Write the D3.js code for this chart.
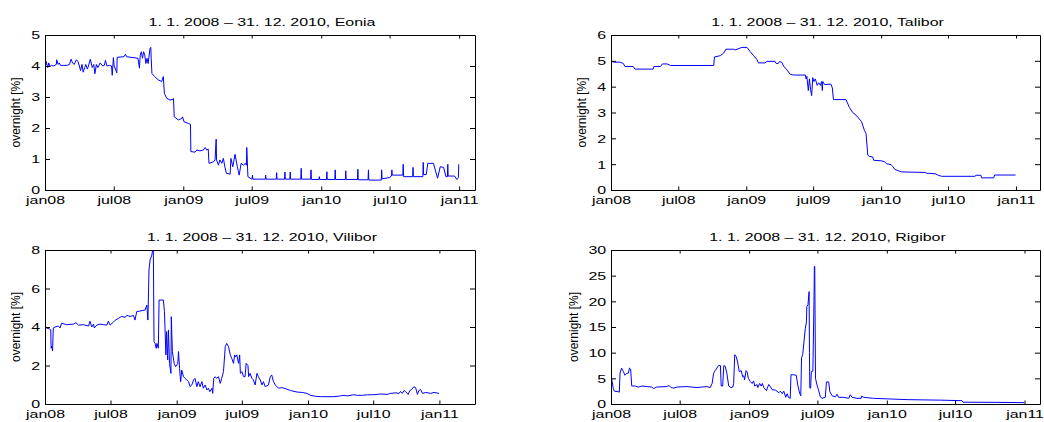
<!DOCTYPE html>
<html>
<head>
<meta charset="utf-8">
<script src="https://cdn.jsdelivr.net/npm/d3@7"></script>
<style>
  body { margin: 0; background: #fff; }
  svg { display: block; background: #fff; }
  text { font-family: "Liberation Sans", Arial, Helvetica, sans-serif; fill: #000; }
</style>
</head>
<body>
<svg id="chart" width="1044" height="422"></svg>
<script>
// Shared x-axis ticks
const xTickDates = ["2008-01-01", "2008-07-01", "2009-01-01", "2009-07-01", "2010-01-01", "2010-07-01", "2011-01-01"];
const xTickLabels = ["jan08", "jul08", "jan09", "jul09", "jan10", "jul10", "jan11"];

// Y-axis ticks per panel
const eoniaTicks = [0, 1, 2, 3, 4, 5];
const taliborTicks = [0, 1, 2, 3, 4, 5, 6];
const viliborTicks = [0, 2, 4, 6, 8];
const rigiborTicks = [0, 5, 10, 15, 20, 25, 30];

// Overnight rates [%], date / value
const eonia = [
["2008-01-01",3.85],["2008-01-04",4.15],["2008-01-08",3.95],["2008-01-11",4.1],["2008-01-14",3.98],["2008-01-18",4.02],["2008-01-24",4.0],["2008-01-31",4.05],["2008-02-01",4.2],["2008-02-05",4.05],["2008-02-08",4.1],["2008-02-11",4.02],["2008-02-20",4.02],["2008-02-28",4.02],["2008-03-06",4.05],["2008-03-10",4.22],["2008-03-14",4.1],["2008-03-18",4.05],["2008-03-24",4.2],["2008-03-28",4.15],["2008-04-01",4.0],["2008-04-04",3.85],["2008-04-08",4.05],["2008-04-11",3.8],["2008-04-15",3.95],["2008-04-18",4.05],["2008-04-22",3.9],["2008-04-25",4.0],["2008-04-30",4.22],["2008-05-05",3.95],["2008-05-09",4.05],["2008-05-12",3.75],["2008-05-16",4.05],["2008-05-20",3.95],["2008-05-26",4.1],["2008-06-02",4.0],["2008-06-06",4.02],["2008-06-09",4.18],["2008-06-13",4.0],["2008-06-20",4.02],["2008-06-25",4.0],["2008-06-27",3.7],["2008-06-30",4.27],["2008-07-02",4.0],["2008-07-07",3.85],["2008-07-09",3.78],["2008-07-10",4.28],["2008-07-28",4.3],["2008-08-01",4.38],["2008-08-04",4.3],["2008-09-03",4.25],["2008-09-07",3.93],["2008-09-09",4.35],["2008-09-12",4.46],["2008-09-15",4.25],["2008-09-18",4.46],["2008-09-21",4.35],["2008-09-24",4.08],["2008-09-27",4.25],["2008-09-30",4.08],["2008-10-05",4.57],["2008-10-07",4.6],["2008-10-08",4.25],["2008-10-10",3.76],["2008-10-17",3.66],["2008-10-27",3.55],["2008-11-05",3.5],["2008-11-09",3.66],["2008-11-12",3.12],["2008-11-18",2.96],["2008-11-27",2.9],["2008-12-05",2.93],["2008-12-06",2.95],["2008-12-08",2.36],["2008-12-19",2.26],["2008-12-28",2.31],["2008-12-30",2.36],["2009-01-03",2.2],["2009-01-14",2.15],["2009-01-20",2.12],["2009-01-21",1.24],["2009-02-01",1.22],["2009-02-06",1.29],["2009-02-14",1.26],["2009-02-23",1.29],["2009-02-28",1.37],["2009-03-04",1.29],["2009-03-08",1.32],["2009-03-10",0.86],["2009-03-22",0.91],["2009-03-26",0.97],["2009-03-29",1.64],["2009-03-30",0.97],["2009-04-04",0.8],["2009-04-08",0.97],["2009-04-13",0.86],["2009-04-17",1.02],["2009-04-21",0.75],["2009-04-25",0.54],["2009-05-05",0.51],["2009-05-07",1.02],["2009-05-12",0.75],["2009-05-18",1.15],["2009-05-24",0.75],["2009-05-27",0.59],["2009-05-29",0.48],["2009-06-03",0.86],["2009-06-09",0.8],["2009-06-14",0.86],["2009-06-17",0.8],["2009-06-18",1.37],["2009-06-21",0.43],["2009-06-27",0.38],
["2009-07-02",0.35],["2009-07-03",0.48],["2009-07-04",0.35],["2009-08-06",0.35],["2009-08-07",0.48],["2009-08-08",0.35],["2009-09-04",0.35],["2009-09-05",0.56],["2009-09-06",0.35],["2009-09-26",0.35],["2009-09-27",0.58],["2009-09-28",0.35],["2009-10-10",0.35],["2009-10-11",0.58],["2009-10-12",0.35],["2009-11-08",0.35],["2009-11-09",0.7],["2009-11-10",0.35],["2009-12-04",0.35],["2009-12-05",0.65],["2009-12-06",0.34],["2009-12-26",0.34],["2009-12-27",0.43],["2009-12-28",0.34],["2010-01-15",0.34],["2010-01-16",0.59],["2010-01-17",0.34],["2010-02-06",0.34],["2010-02-07",0.65],["2010-02-08",0.34],["2010-03-06",0.34],["2010-03-07",0.62],["2010-03-08",0.34],["2010-04-07",0.34],["2010-04-08",0.67],["2010-04-09",0.33],["2010-05-05",0.33],["2010-05-06",0.65],["2010-05-07",0.32],["2010-06-09",0.32],["2010-06-10",0.65],["2010-06-11",0.36],["2010-06-30",0.4],["2010-07-06",0.45],["2010-07-07",0.65],["2010-07-08",0.48],["2010-08-05",0.48],["2010-08-06",0.83],["2010-08-07",0.43],["2010-08-31",0.43],["2010-09-01",0.73],["2010-09-02",0.43],["2010-09-27",0.43],["2010-09-28",0.89],["2010-09-29",0.5],["2010-10-06",0.5],["2010-10-10",0.86],["2010-10-25",0.86],["2010-11-05",0.38],["2010-11-12",0.75],["2010-11-21",0.73],["2010-11-27",0.43],["2010-12-01",0.43],["2010-12-02",0.83],["2010-12-03",0.45],["2010-12-20",0.45],["2010-12-26",0.34],["2010-12-30",0.4],["2010-12-31",0.83]
];

const talibor = [
["2008-01-01",5.0],["2008-01-07",4.95],["2008-01-25",4.95],["2008-02-03",4.9],["2008-02-08",4.78],["2008-03-01",4.78],["2008-03-06",4.68],["2008-04-24",4.68],["2008-04-26",4.78],["2008-05-14",4.78],["2008-05-19",4.88],["2008-06-01",4.88],["2008-06-10",4.82],["2008-10-05",4.82],["2008-10-07",5.15],["2008-10-23",5.2],["2008-11-01",5.3],["2008-11-07",5.45],["2008-11-28",5.45],["2008-12-02",5.42],["2008-12-20",5.52],["2009-01-03",5.52],["2009-01-12",5.35],["2009-01-21",5.2],["2009-01-30",5.05],["2009-02-03",4.92],["2009-02-21",4.92],["2009-02-26",4.98],["2009-03-20",4.98],["2009-03-23",4.9],["2009-03-29",4.9],["2009-04-01",4.97],["2009-04-07",4.95],["2009-04-12",4.8],["2009-04-21",4.65],["2009-04-30",4.48],["2009-05-09",4.45],["2009-06-10",4.45],["2009-06-12",4.3],["2009-06-14",4.4],["2009-06-18",3.85],["2009-06-21",4.3],["2009-06-24",3.9],["2009-06-27",3.65],["2009-06-30",4.35],["2009-07-03",4.2],["2009-07-07",4.3],["2009-07-12",4.05],["2009-07-16",4.15],["2009-07-21",4.05],["2009-07-24",4.2],["2009-07-26",3.85],["2009-07-27",4.2],["2009-08-01",4.08],["2009-08-18",4.1],["2009-08-22",3.95],["2009-08-25",3.5],["2009-09-28",3.5],["2009-10-07",3.2],["2009-10-16",3.0],["2009-10-25",2.9],["2009-11-03",2.75],["2009-11-09",2.65],["2009-11-17",2.3],["2009-11-21",2.2],["2009-11-26",1.35],["2009-11-30",1.3],["2009-12-09",1.28],["2009-12-12",1.15],["2010-01-01",1.13],["2010-01-10",1.1],["2010-01-15",1.02],["2010-01-28",0.98],["2010-02-02",0.9],["2010-02-07",0.8],["2010-02-16",0.75],["2010-02-25",0.7],["2010-04-30",0.68],["2010-05-04",0.65],["2010-05-27",0.63],["2010-06-05",0.57],["2010-06-14",0.53],["2010-09-12",0.53],["2010-09-15",0.57],["2010-09-28",0.57],["2010-09-30",0.47],["2010-11-02",0.47],["2010-11-04",0.58],["2010-12-31",0.58]
];

const vilibor = [
["2008-01-01",4.0],["2008-01-05",3.95],["2008-01-13",3.9],["2008-01-17",3.85],["2008-01-18",2.9],["2008-01-20",3.0],["2008-01-22",2.75],["2008-01-24",3.95],["2008-01-29",4.0],["2008-02-07",4.05],["2008-02-12",3.95],["2008-02-16",4.2],["2008-03-01",4.12],["2008-03-20",4.15],["2008-03-27",4.22],["2008-04-03",4.1],["2008-04-17",4.12],["2008-05-01",4.05],["2008-05-05",4.3],["2008-05-10",4.0],["2008-05-15",4.15],["2008-05-17",3.95],["2008-05-24",4.1],["2008-06-02",4.15],["2008-06-11",4.12],["2008-06-21",4.1],["2008-06-25",4.3],["2008-06-30",4.1],["2008-07-09",4.25],["2008-07-14",4.35],["2008-07-23",4.45],["2008-08-01",4.55],["2008-08-11",4.5],["2008-08-15",4.6],["2008-08-25",4.55],["2008-09-03",4.6],["2008-09-07",4.36],["2008-09-12",4.8],["2008-10-05",4.88],["2008-10-10",5.14],["2008-10-13",4.36],["2008-10-16",6.96],["2008-10-19",7.48],["2008-10-24",7.74],["2008-10-26",8.0],["2008-10-28",8.3],["2008-10-30",3.24],["2008-11-02",3.15],["2008-11-05",2.89],["2008-11-07",3.15],["2008-11-11",2.9],["2008-11-13",5.4],["2008-11-25",5.4],["2008-11-28",4.8],["2008-12-02",2.55],["2008-12-04",3.76],["2008-12-07",2.29],["2008-12-09",3.85],["2008-12-12",2.11],["2008-12-16",1.59],["2008-12-17",4.54],["2008-12-20",2.72],["2008-12-25",2.11],["2008-12-29",1.94],["2009-01-04",2.11],["2009-01-06",2.72],["2009-01-09",1.85],["2009-01-12",1.16],["2009-01-15",1.76],["2009-01-20",1.42],["2009-01-24",1.33],["2009-01-29",1.25],["2009-02-03",1.16],["2009-02-07",0.9],["2009-02-12",0.99],["2009-02-17",1.25],["2009-02-21",1.33],["2009-02-26",0.9],["2009-03-02",1.16],["2009-03-07",0.9],["2009-03-12",1.16],["2009-03-16",0.82],["2009-03-21",0.99],["2009-03-26",0.73],["2009-03-30",0.82],["2009-04-03",0.64],["2009-04-09",0.82],["2009-04-11",0.55],["2009-04-14",1.33],["2009-04-18",1.42],["2009-04-22",1.33],["2009-04-27",1.42],["2009-05-02",1.07],["2009-05-06",1.33],["2009-05-11",1.68],["2009-05-16",2.98],["2009-05-20",3.15],["2009-05-25",2.98],["2009-05-30",2.55],["2009-06-03",2.37],["2009-06-08",2.11],["2009-06-11",2.55],["2009-06-14",2.45],["2009-06-17",2.55],["2009-06-22",2.11],["2009-06-25",2.55],["2009-06-27",1.59],["2009-07-01",1.68],["2009-07-06",1.42],["2009-07-10",1.42],["2009-07-13",2.11],["2009-07-18",2.0],["2009-07-20",1.42],["2009-07-24",1.59],["2009-07-29",1.33],["2009-08-02",1.25],["2009-08-07",0.99],["2009-08-12",1.59],["2009-08-16",1.42],["2009-08-21",1.25],["2009-08-26",0.99],["2009-08-30",1.16],["2009-09-04",0.9],["2009-09-13",0.99],["2009-09-18",1.42],["2009-09-22",1.51],["2009-09-27",1.16],["2009-10-02",0.99],["2009-10-11",0.82],["2009-10-20",0.85],["2009-10-30",0.8],["2009-11-13",0.7],["2009-12-02",0.62],["2009-12-16",0.6],["2009-12-29",0.55],["2010-01-08",0.45],["2010-01-22",0.4],["2010-02-05",0.38],["2010-03-14",0.38],["2010-04-01",0.42],["2010-04-11",0.45],["2010-04-20",0.42],["2010-05-08",0.48],["2010-05-18",0.45],["2010-06-01",0.45],["2010-06-15",0.48],["2010-07-03",0.48],["2010-07-22",0.52],["2010-08-09",0.5],["2010-08-18",0.55],["2010-09-01",0.58],["2010-09-11",0.55],["2010-09-15",0.65],["2010-09-20",0.55],["2010-09-25",0.7],["2010-09-29",0.65],["2010-10-06",0.5],["2010-10-11",0.7],["2010-10-16",0.75],["2010-10-22",0.9],["2010-10-27",0.85],["2010-11-01",0.5],["2010-11-05",0.7],["2010-11-10",0.75],["2010-11-15",0.55],["2010-11-24",0.6],["2010-12-08",0.55],["2010-12-17",0.6],["2010-12-31",0.55]
];

const rigibor = [
["2008-01-01",5.8],["2008-01-07",3.0],["2008-01-10",2.5],["2008-01-20",2.4],["2008-01-23",2.3],["2008-01-25",6.0],["2008-01-29",7.0],["2008-02-03",6.3],["2008-02-07",5.6],["2008-02-12",6.0],["2008-02-16",6.0],["2008-02-19",7.0],["2008-02-22",6.8],["2008-02-25",3.5],["2008-03-05",3.5],["2008-03-14",3.3],["2008-03-23",3.5],["2008-04-05",3.4],["2008-04-18",3.3],["2008-04-23",3.0],["2008-05-01",3.3],["2008-05-28",3.4],["2008-06-03",3.6],["2008-06-08",3.2],["2008-06-15",3.1],["2008-06-24",3.3],["2008-07-20",3.4],["2008-08-16",3.2],["2008-08-29",3.3],["2008-09-11",3.4],["2008-09-20",3.2],["2008-09-25",4.0],["2008-09-29",6.0],["2008-10-03",6.5],["2008-10-12",7.5],["2008-10-17",7.5],["2008-10-19",3.5],["2008-10-23",3.5],["2008-10-26",7.5],["2008-10-30",7.3],["2008-11-03",6.0],["2008-11-08",3.5],["2008-11-14",3.2],["2008-11-19",3.3],["2008-11-21",4.0],["2008-11-24",9.6],["2008-11-28",9.2],["2008-12-02",8.0],["2008-12-06",6.3],["2008-12-11",6.5],["2008-12-15",5.3],["2008-12-18",5.5],["2008-12-20",4.7],["2008-12-24",6.5],["2008-12-27",6.2],["2008-12-30",5.0],["2009-01-04",4.4],["2009-01-09",4.0],["2009-01-13",4.5],["2009-01-16",3.5],["2009-01-22",3.8],["2009-01-24",3.2],["2009-01-29",4.0],["2009-02-02",3.5],["2009-02-05",4.0],["2009-02-09",3.2],["2009-02-16",2.6],["2009-02-22",3.8],["2009-02-27",3.3],["2009-03-03",2.8],["2009-03-12",2.7],["2009-03-21",2.2],["2009-03-25",2.5],["2009-03-30",2.0],["2009-04-03",2.5],["2009-04-08",1.3],["2009-04-12",2.0],["2009-04-15",1.3],["2009-04-20",1.1],["2009-04-22",5.7],["2009-04-29",5.7],["2009-05-06",5.6],["2009-05-10",3.7],["2009-05-15",2.1],["2009-05-18",1.6],["2009-05-20",9.0],["2009-05-23",9.6],["2009-05-30",14.7],["2009-06-02",16.0],["2009-06-03",19.0],["2009-06-06",19.3],["2009-06-09",21.9],["2009-06-10",10.0],["2009-06-11",3.1],["2009-06-13",3.1],["2009-06-15",6.3],["2009-06-19",6.4],["2009-06-22",20.0],["2009-06-23",26.8],["2009-06-24",26.8],["2009-06-26",5.0],["2009-06-30",3.7],["2009-07-04",2.7],["2009-07-09",1.4],["2009-07-13",1.1],["2009-07-22",1.3],["2009-07-25",4.3],["2009-07-31",4.3],["2009-08-03",2.4],["2009-08-09",1.6],["2009-08-18",1.4],["2009-08-22",1.9],["2009-08-26",1.3],["2009-09-09",1.3],["2009-09-22",1.1],["2009-09-26",1.8],["2009-10-01",1.3],["2009-10-14",1.1],["2009-10-25",1.1],["2009-10-26",1.5],["2009-11-01",1.3],["2009-11-27",1.1],["2010-01-02",1.0],["2010-02-24",0.85],["2010-04-09",0.8],["2010-05-23",0.75],["2010-07-19",0.65],["2010-07-22",0.35],["2010-10-15",0.32],["2010-12-31",0.26]
];

const panels = [
  { name: "Eonia",   series: eonia,   yTicks: eoniaTicks,   left: 45,  right: 475,  top: 35,  bottom: 190, xEnd: "2011-02-12", labelX: 20 },
  { name: "Talibor", series: talibor, yTicks: taliborTicks, left: 611, right: 1040, top: 35,  bottom: 190, xEnd: "2011-03-07", labelX: 586 },
  { name: "Vilibor", series: vilibor, yTicks: viliborTicks, left: 45,  right: 475,  top: 250, bottom: 404, xEnd: "2011-04-10", labelX: 20 },
  { name: "Rigibor", series: rigibor, yTicks: rigiborTicks, left: 611, right: 1040, top: 250, bottom: 404, xEnd: "2011-02-11", labelX: 578 }
];

const STRETCH = 1.45;   // wide glyphs of the horizontal labels
const FONT = '"Liberation Sans", Arial, Helvetica, sans-serif';
const parse = d3.timeParse("%Y-%m-%d");
const tickDates = xTickDates.map(parse);
const svg = d3.select("#chart");
const defs = svg.append("defs");

panels.forEach((p, i) => {
  const data = p.series.map(([d, v]) => ({ date: parse(d), value: v }));
  const yMax = p.yTicks[p.yTicks.length - 1];

  const x = d3.scaleTime().domain([parse("2008-01-01"), parse(p.xEnd)]).range([p.left, p.right]);
  const y = d3.scaleLinear().domain([0, yMax]).range([p.bottom, p.top]);

  defs.append("clipPath").attr("id", "plot-clip-" + i)
    .append("rect")
    .attr("x", p.left).attr("y", p.top)
    .attr("width", p.right - p.left).attr("height", p.bottom - p.top);

  const g = svg.append("g");

  // rate line
  const line = d3.line().x(d => x(d.date)).y(d => y(d.value));
  g.append("path")
    .datum(data)
    .attr("clip-path", `url(#plot-clip-${i})`)
    .attr("fill", "none")
    .attr("stroke", "#0000ff")
    .attr("stroke-width", 1)
    .attr("stroke-linejoin", "round")
    .attr("d", line);

  // boxed axes with inward ticks
  const styleAxis = sel => sel.attr("font-family", FONT).attr("font-size", 11)
    .call(s => s.selectAll("path, line").attr("stroke", "#000"))
    .call(s => s.selectAll("text").attr("fill", "#000"));

  g.append("g")
    .attr("transform", `translate(0,${p.bottom})`)
    .call(d3.axisBottom(x).tickValues(tickDates).tickFormat((d, k) => xTickLabels[k])
      .tickSizeInner(-3.5).tickSizeOuter(0).tickPadding(6.2))
    .call(styleAxis)
    .call(s => s.selectAll("text").attr("transform", `scale(${STRETCH},1)`));

  g.append("g")
    .attr("transform", `translate(0,${p.top})`)
    .call(d3.axisTop(x).tickValues(tickDates).tickFormat("")
      .tickSizeInner(-3.5).tickSizeOuter(0))
    .call(styleAxis);

  g.append("g")
    .attr("transform", `translate(${p.left},0)`)
    .call(d3.axisLeft(y).tickValues(p.yTicks).tickFormat(d3.format("d"))
      .tickSizeInner(-5).tickSizeOuter(0).tickPadding(3.3))
    .call(styleAxis)
    .call(s => s.selectAll("text").attr("dy", "0.36em").attr("transform", `scale(${STRETCH},1)`));

  g.append("g")
    .attr("transform", `translate(${p.right},0)`)
    .call(d3.axisRight(y).tickValues(p.yTicks).tickFormat("")
      .tickSizeInner(-5).tickSizeOuter(0))
    .call(styleAxis);

  // title
  g.append("text")
    .attr("transform", `translate(${(p.left + p.right) / 2 + 2},${p.top - 9}) scale(${STRETCH},1)`)
    .attr("text-anchor", "middle")
    .attr("font-size", 11)
    .text(`1. 1. 2008 \u2013 31. 12. 2010, ${p.name}`);

  // y label
  g.append("text")
    .attr("transform", `translate(${p.labelX},${(p.top + p.bottom) / 2}) rotate(-90)`)
    .attr("text-anchor", "middle")
    .attr("font-size", 12)
    .text("overnight [%]");
});
</script>
</body>
</html>
